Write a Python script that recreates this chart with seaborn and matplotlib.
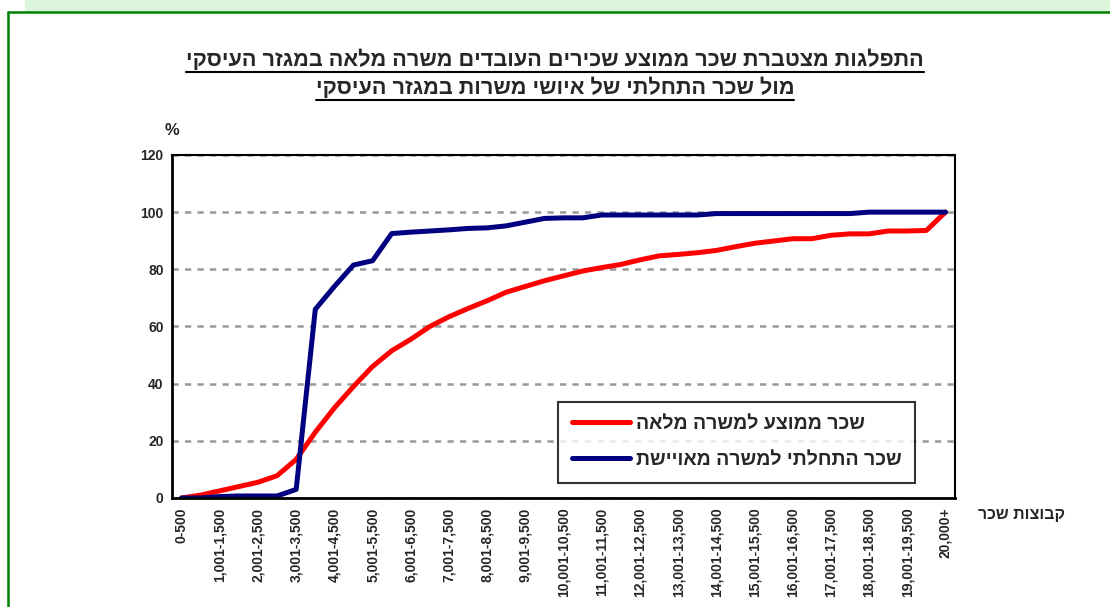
import numpy as np
import pandas as pd
import matplotlib
matplotlib.use('Agg')
import matplotlib.pyplot as plt
from matplotlib.lines import Line2D
from matplotlib.patches import Rectangle
import seaborn as sns

# salary groups (NIS)
groups = ['0-500', '501-1,000', '1,001-1,500', '1,501-2,000', '2,001-2,500',
          '2,501-3,000', '3,001-3,500', '3,501-4,000', '4,001-4,500', '4,501-5,000',
          '5,001-5,500', '5,501-6,000', '6,001-6,500', '6,501-7,000', '7,001-7,500',
          '7,501-8,000', '8,001-8,500', '8,501-9,000', '9,001-9,500', '9,501-10,000',
          '10,001-10,500', '10,501-11,000', '11,001-11,500', '11,501-12,000',
          '12,001-12,500', '12,501-13,000', '13,001-13,500', '13,501-14,000',
          '14,001-14,500', '14,501-15,000', '15,001-15,500', '15,501-16,000',
          '16,001-16,500', '16,501-17,000', '17,001-17,500', '17,501-18,000',
          '18,001-18,500', '18,501-19,000', '19,001-19,500', '19,501-20,000',
          '20,000+']

# cumulative %, average wage of full-time employees
avg_full = [0, 1, 2.5, 4, 5.5, 7.8, 13.5, 23, 31.5, 39,
            46, 51.5, 55.5, 60, 63.4, 66.3, 69, 72, 74, 76,
            77.7, 79.4, 80.6, 81.7, 83.3, 84.7, 85.2, 85.8, 86.6, 87.9,
            89.1, 89.9, 90.7, 90.7, 91.9, 92.4, 92.4, 93.4, 93.4, 93.6,
            100]

# cumulative %, starting wage of filled positions
start_pay = [0, 0, 0.5, 0.7, 0.7, 0.7, 3, 66, 74, 81.5,
             83, 92.5, 93, 93.4, 93.8, 94.3, 94.5, 95.2, 96.5, 97.8,
             98, 98, 99, 99, 99, 99, 99, 99, 99.5, 99.5,
             99.5, 99.5, 99.5, 99.5, 99.5, 99.5, 100, 100, 100, 100,
             100]

title_1 = 'התפלגות מצטברת שכר ממוצע שכירים העובדים משרה מלאה במגזר העיסקי'
title_2 = 'מול שכר התחלתי של איושי משרות במגזר העיסקי'
label_avg = 'שכר ממוצע למשרה מלאה'
label_start = 'שכר התחלתי למשרה מאויישת'
x_title = 'קבוצות שכר'


def rtl(s):
    # matplotlib has no bidi support, so put Hebrew in visual order
    return s[::-1]


sns.set_style("white")
plt.rcParams['font.family'] = ['Liberation Sans', 'DejaVu Sans']

df = pd.DataFrame({'pos': np.arange(len(groups)), 'group': groups,
                   'avg': avg_full, 'start': start_pay})

fig = plt.figure(figsize=(11.1, 6.07), dpi=100)
ax = fig.add_axes([0.155, 0.1796, 0.7054, 0.5651])

sns.lineplot(data=df, x='pos', y='avg', color='#ff0000', lw=3.6, ax=ax,
             label=rtl(label_avg), solid_capstyle='round', solid_joinstyle='round')
sns.lineplot(data=df, x='pos', y='start', color='#000080', lw=3.6, ax=ax,
             label=rtl(label_start), solid_capstyle='round', solid_joinstyle='round')

ax.set_xlim(-0.5, len(groups) - 0.5)
ax.set_ylim(0, 120)
ax.set_yticks(range(0, 121, 20))
ax.yaxis.grid(True, ls=(0, (2.5, 2.5)), color='#999999', lw=1.8)
ax.set_axisbelow(True)

ax.set_xticks(df['pos'][::2])
ax.set_xticklabels(groups[::2], rotation=90, fontweight='bold', fontsize=10)
ax.set_xticks(np.arange(-0.5, len(groups), 1), minor=True)
ax.tick_params(axis='x', which='major', length=0, pad=7)
ax.tick_params(axis='x', which='minor', length=4, width=1.5, direction='out', color='black')
ax.tick_params(axis='y', length=4, width=1.5, direction='out', color='black', pad=2)
for t in ax.get_yticklabels():
    t.set_fontweight('bold')
    t.set_fontsize(10)
ax.set_xlabel('')
ax.set_ylabel('')

for side in ['left', 'bottom']:
    ax.spines[side].set_linewidth(2)
for side in ['top', 'right']:
    ax.spines[side].set_linewidth(1.5)
for side in ax.spines:
    ax.spines[side].set_color('black')

leg = ax.legend(loc='upper left', bbox_to_anchor=(0.493, 0.28), borderaxespad=0,
                frameon=True, fancybox=False, edgecolor='black', handlelength=3.0,
                labelspacing=0.95, borderpad=0.7, handletextpad=0.3,
                prop={'weight': 'bold', 'size': 14})
leg.get_frame().set_linewidth(1.5)

ax.text(-0.5, 126, '%', fontsize=12, fontweight='bold', ha='center', va='bottom')
ax.text(1022, 607 - 515, rtl(x_title), transform=None, fontsize=11.5, fontweight='bold',
        ha='center', va='center')

t1 = fig.text(0.5, 1 - 60 / 607, rtl(title_1), ha='center', va='center',
              fontsize=15.6, fontweight='bold')
t2 = fig.text(0.5, 1 - 88 / 607, rtl(title_2), ha='center', va='center',
              fontsize=15.6, fontweight='bold')

# green frame of the original sheet
fig.add_artist(Rectangle((25 / 1110, 1 - 11 / 607), 1, 11 / 607, color='#dcf6dc',
                         transform=fig.transFigure, zorder=0))
fig.add_artist(Line2D([8 / 1110, 1], [1 - 12 / 607, 1 - 12 / 607], color='#008000',
                      lw=1.8, transform=fig.transFigure))
fig.add_artist(Line2D([8 / 1110, 8 / 1110], [0, 1 - 12 / 607], color='#008000',
                      lw=1.8, transform=fig.transFigure))

# underline the title lines
fig.canvas.draw()
renderer = fig.canvas.get_renderer()
for t in (t1, t2):
    bb = t.get_window_extent(renderer)
    y = (bb.y0 - 1) / fig.bbox.height
    fig.add_artist(Line2D([bb.x0 / fig.bbox.width, bb.x1 / fig.bbox.width], [y, y],
                          color='black', lw=1.5, transform=fig.transFigure))

fig.savefig('out.png', dpi=100)
